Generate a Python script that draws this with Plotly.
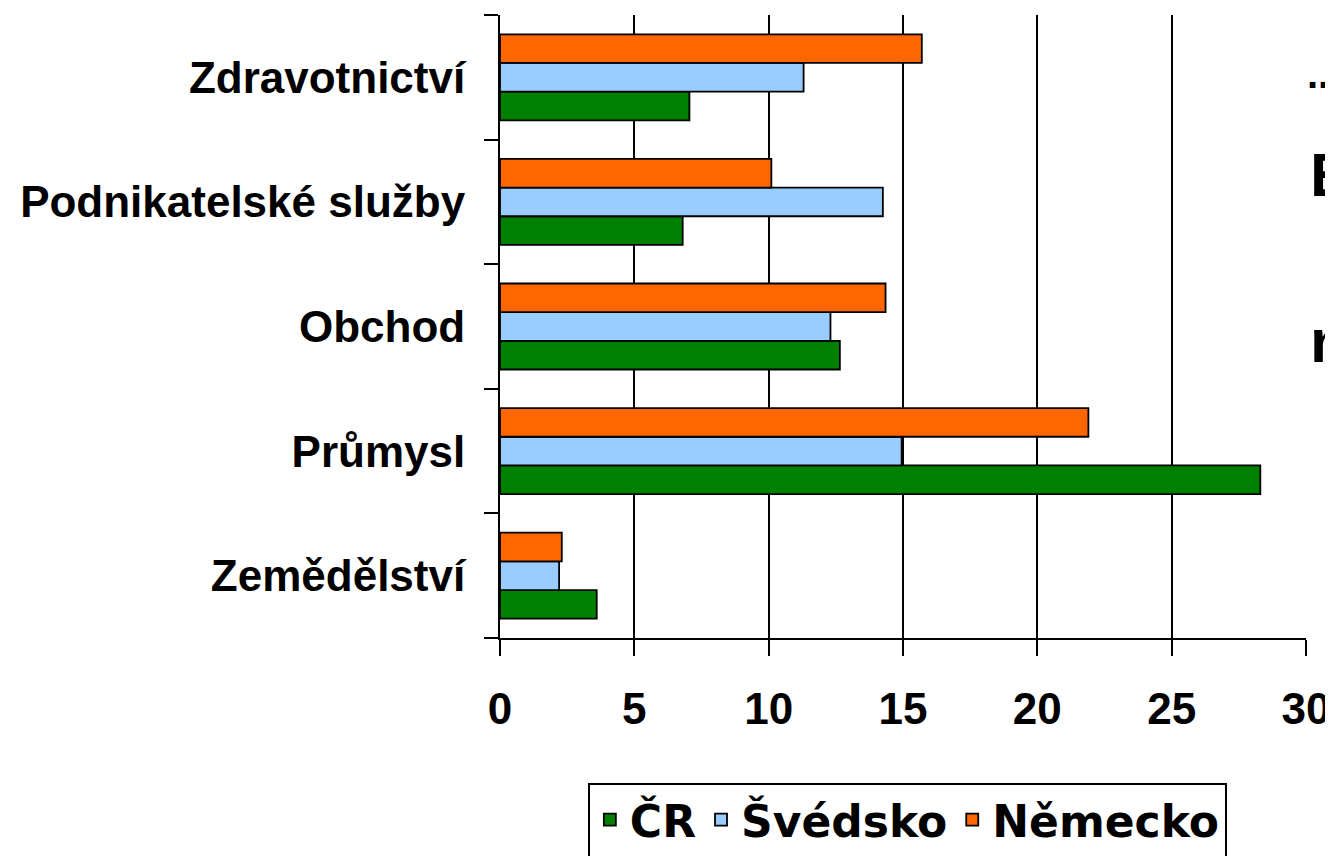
import plotly.graph_objects as go

# odvětví (zdola nahoru) a podíly zaměstnanosti v %
odvetvi = ["Zemědělství", "Průmysl", "Obchod", "Podnikatelské služby", "Zdravotnictví"]
cr = [3.6, 28.3, 12.65, 6.8, 7.05]
svedsko = [2.2, 14.95, 12.3, 14.25, 11.3]
nemecko = [2.3, 21.9, 14.35, 10.1, 15.7]

serie = [
    ("ČR", cr, "#008000"),
    ("Švédsko", svedsko, "#99CCFF"),
    ("Německo", nemecko, "#FF6600"),
]

FONT = "Liberation Sans, Arial, sans-serif"
WIDE = "DejaVu Sans, Verdana, sans-serif"

fig = go.Figure()
for name, vals, color in serie:
    fig.add_trace(
        go.Bar(
            y=odvetvi,
            x=vals,
            name=name,
            orientation="h",
            marker=dict(color=color, line=dict(color="#000000", width=1.8)),
        )
    )

# oříznuté texty ze slajdu vpravo
for txt, xx, yy, size in [("...", 0.999, 0.905, 40), ("E", 1.003, 0.744, 62), ("n", 1.003, 0.478, 62)]:
    fig.add_annotation(
        text=txt, xref="paper", yref="paper", x=xx, y=yy,
        xanchor="left", yanchor="middle", showarrow=False,
        font=dict(family=FONT, size=size, color="#000000", weight="bold"),
    )

# stránka má okraj 8 px, proto posunuté okraje
fig.update_layout(
    template="none",
    width=1333,
    height=856,
    barmode="group",
    bargap=0.31,
    bargroupgap=0,
    plot_bgcolor="#FFFFFF",
    paper_bgcolor="#FFFFFF",
    margin=dict(l=492, r=35, t=7, b=220),
    font=dict(family=FONT, size=40, color="#000000", weight="bold"),
    showlegend=True,
    legend=dict(
        orientation="h",
        x=0.109, y=-0.232, xanchor="left", yanchor="top",
        bordercolor="#000000", borderwidth=2,
        font=dict(family=WIDE, size=44, color="#000000", weight="bold"),
        traceorder="normal",
        itemwidth=30,
    ),
    xaxis=dict(
        automargin=False,
        range=[0, 30],
        tickvals=[0, 5, 10, 15, 20, 25, 30],
        showgrid=True, gridcolor="#000000", gridwidth=2,
        zeroline=False,
        showline=True, linecolor="#000000", linewidth=2,
        ticks="outside", ticklen=16, tickwidth=2, tickcolor="#000000",
        ticklabelstandoff=15,
        tickfont=dict(size=44),
        fixedrange=True,
    ),
    yaxis=dict(
        automargin=False,
        showline=True, linecolor="#000000", linewidth=2,
        ticks="outside", ticklen=14, tickwidth=2, tickcolor="#000000",
        tickson="boundaries",
        showgrid=False,
        zeroline=False,
        ticklabelstandoff=24,
        tickfont=dict(size=44),
        fixedrange=True,
    ),
)

fig.write_html("out.html")
